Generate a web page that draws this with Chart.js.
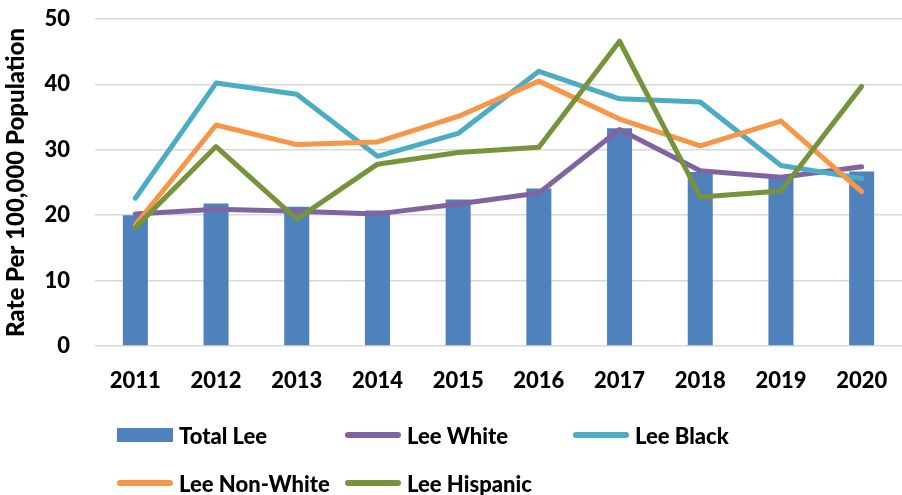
<!DOCTYPE html>
<html>
<head>
<meta charset="utf-8">
<script src="https://cdn.jsdelivr.net/npm/chart.js@4/dist/chart.umd.min.js"></script>
<style>
  html, body { margin: 0; padding: 0; background: #fff; }
  #wrap { position: relative; width: 902px; height: 495px; }
  #legend { position: absolute; left: 0; top: 0; width: 902px; height: 495px; pointer-events: none;
    font-family: Lato, "Open Sans", sans-serif; font-weight: 900; font-size: 22px; color: #000; }
  .item { position: absolute; display: flex; align-items: center; white-space: nowrap; }
  .sw { display: inline-block; width: 56px; margin-right: 6px; }
  .sw.box { height: 14px; }
  .sw.line { height: 6px; border-radius: 3px; }
</style>
</head>
<body>
<div id="wrap">
  <canvas id="c" width="902" height="495"></canvas>
  <div id="legend"></div>
</div>
<script>
const years = ["2011", "2012", "2013", "2014", "2015", "2016", "2017", "2018", "2019", "2020"];
const totalLee = [20.0, 21.8, 21.3, 20.7, 22.4, 24.1, 33.3, 26.6, 25.9, 26.7];
const leeWhite = [20.2, 20.9, 20.6, 20.2, 21.7, 23.4, 33.1, 26.8, 25.8, 27.4];
const leeBlack = [22.6, 40.2, 38.5, 29.0, 32.5, 42.0, 37.8, 37.3, 27.6, 25.6];
const leeNonWhite = [18.5, 33.8, 30.8, 31.2, 35.1, 40.5, 34.7, 30.6, 34.4, 23.6];
const leeHispanic = [18.1, 30.5, 19.4, 27.8, 29.6, 30.4, 46.6, 22.8, 23.7, 39.7];

const font = { family: "Lato, 'Open Sans', sans-serif", weight: "900", size: 22 };

function line(label, data, color, order) {
  return {
    type: "line", label, data, order,
    borderColor: color, backgroundColor: color,
    borderWidth: 5, pointRadius: 0, tension: 0,
    borderCapStyle: "round", borderJoinStyle: "round"
  };
}

const datasets = [
  { type: "bar", label: "Total Lee", data: totalLee, order: 5,
    backgroundColor: "#4F81BD", categoryPercentage: 1, barPercentage: 0.31 },
  line("Lee White", leeWhite, "#8064A2", 4),
  line("Lee Black", leeBlack, "#4BACC6", 3),
  line("Lee Non-White", leeNonWhite, "#F79646", 2),
  line("Lee Hispanic", leeHispanic, "#77933C", 1)
];

new Chart(document.getElementById("c"), {
  data: { labels: years, datasets },
  options: {
    responsive: false,
    animation: false,
    layout: { padding: { top: 19, right: 0, bottom: 95, left: 0 } },
    plugins: { legend: { display: false }, tooltip: { enabled: false } },
    scales: {
      x: {
        grid: { display: false },
        border: { display: false },
        ticks: { color: "#000", font, padding: 14 },
        afterFit: s => { s.height = 54; }
      },
      y: {
        min: 0, max: 50,
        grid: { color: "#D9D9D9", lineWidth: 1.5, drawTicks: false },
        border: { display: false },
        ticks: { stepSize: 10, color: "#000", font, padding: 25 },
        title: { display: true, text: "Rate Per 100,000 Population", color: "#000",
          font: { ...font, size: 24 }, padding: { top: 2, bottom: 0 } },
        afterFit: s => { s.width = 95; s.paddingTop = 0; s.paddingBottom = 0; }
      }
    }
  }
});

// legend laid out in Excel's fixed columns
const legendPos = [[117, 435], [345, 435], [573, 435], [117, 483], [345, 483]];
const legend = document.getElementById("legend");
datasets.forEach((d, i) => {
  const it = document.createElement("div");
  it.className = "item";
  it.style.left = legendPos[i][0] + "px";
  it.style.top = (legendPos[i][1] - 14) + "px";
  it.style.height = "28px";
  const sw = document.createElement("span");
  sw.className = "sw " + (d.type === "bar" ? "box" : "line");
  sw.style.background = d.backgroundColor;
  it.appendChild(sw);
  it.appendChild(document.createTextNode(d.label));
  legend.appendChild(it);
});
</script>
</body>
</html>
